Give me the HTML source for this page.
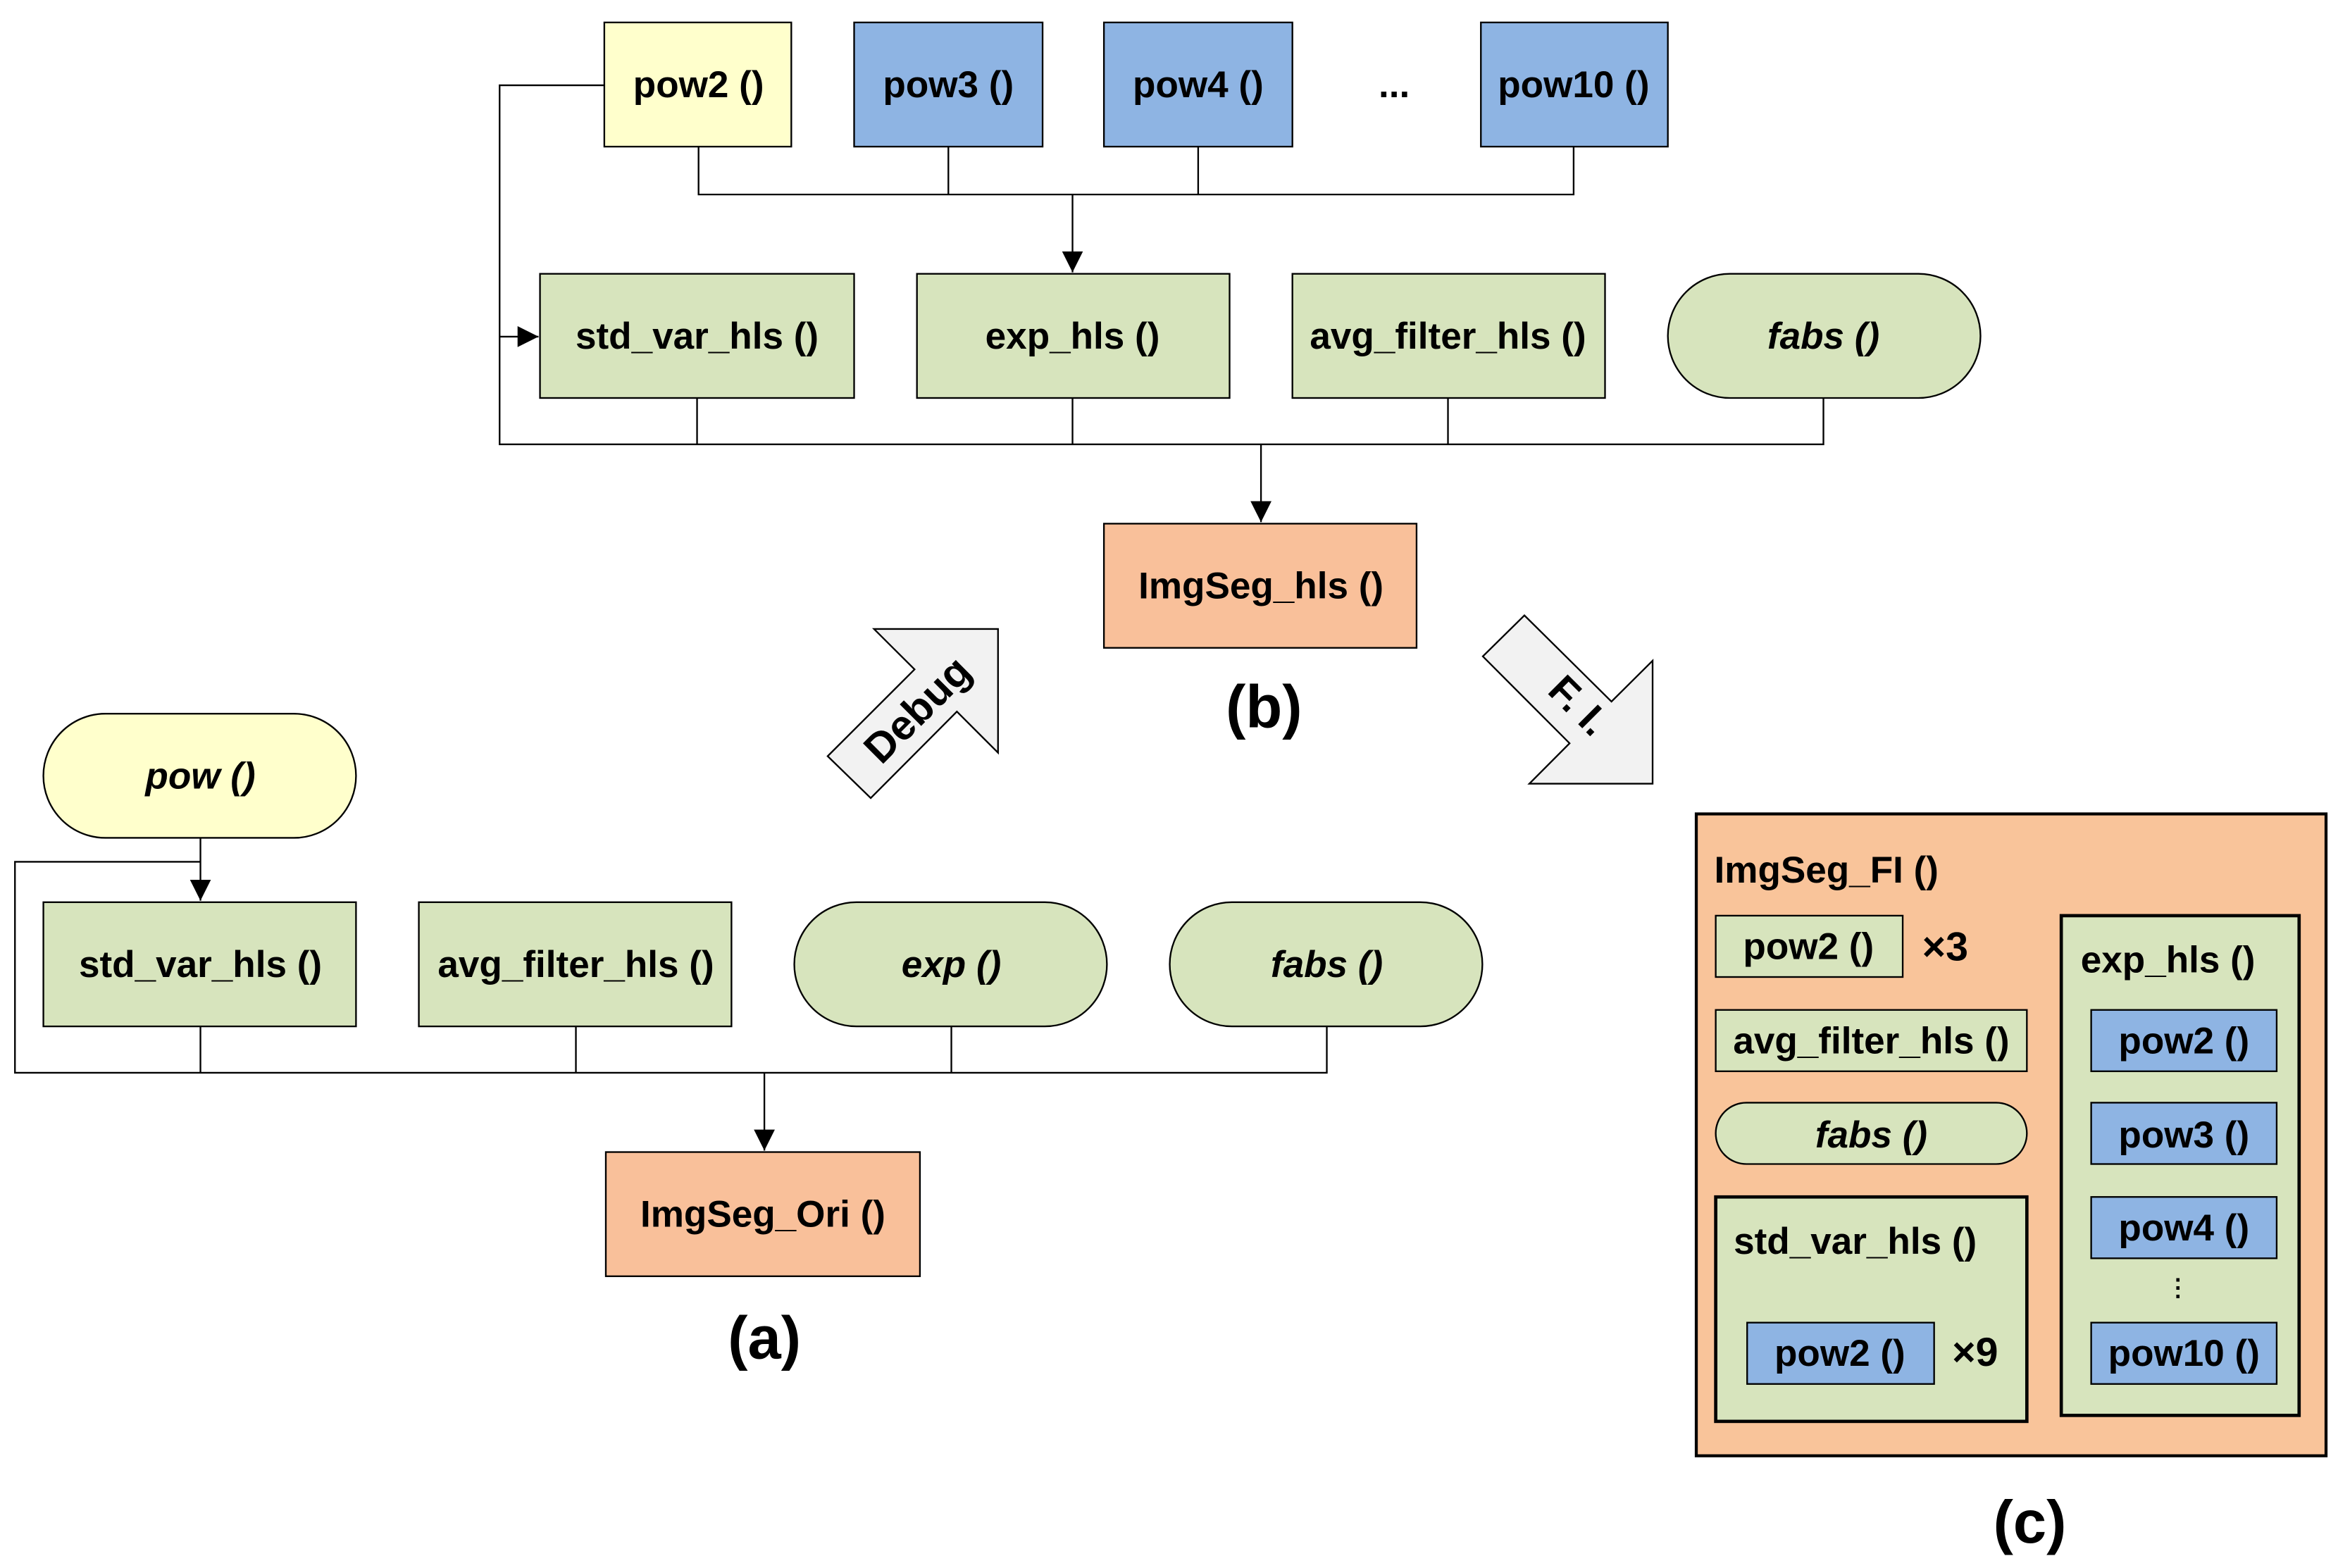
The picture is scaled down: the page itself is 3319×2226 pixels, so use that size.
<!DOCTYPE html>
<html><head><meta charset="utf-8"><style>
html,body{margin:0;padding:0;background:#fff;}
svg{display:block;}
text{font-family:"Liberation Sans Narrow","Liberation Sans",sans-serif;font-weight:bold;fill:#000;}
</style></head><body>
<svg width="3319" height="2226" viewBox="0 0 1563 1048" preserveAspectRatio="none" xmlns="http://www.w3.org/2000/svg">
<defs><marker id="ar" viewBox="0 0 10 10" refX="10" refY="5" markerWidth="14" markerHeight="14" markerUnits="userSpaceOnUse" orient="auto"><path d="M0,0 L10,5 L0,10 z" fill="#000"/></marker></defs>
<g stroke="#000" stroke-width="1.1" fill="none">
<polyline points="467,98 467,130 1052,130 1052,98"/>
<line x1="634" y1="98" x2="634" y2="130"/><line x1="801" y1="98" x2="801" y2="130"/>
<line x1="717" y1="130" x2="717" y2="182" marker-end="url(#ar)"/>
<polyline points="404,57 334,57 334,297 1219,297 1219,266"/>
<line x1="334" y1="225" x2="360" y2="225" marker-end="url(#ar)"/>
<line x1="466" y1="266" x2="466" y2="297"/><line x1="717" y1="266" x2="717" y2="297"/><line x1="968" y1="266" x2="968" y2="297"/>
<line x1="843" y1="297" x2="843" y2="349" marker-end="url(#ar)"/>
<line x1="134" y1="560" x2="134" y2="602" marker-end="url(#ar)"/>
<polyline points="134,576 10,576 10,717 887,717 887,686"/>
<line x1="134" y1="686" x2="134" y2="717"/><line x1="385" y1="686" x2="385" y2="717"/><line x1="636" y1="686" x2="636" y2="717"/>
<line x1="511" y1="717" x2="511" y2="769" marker-end="url(#ar)"/>
</g>
<g stroke="#000" stroke-width="1.1">
<rect x="404" y="15" width="125" height="83" fill="#ffffcc"/>
<rect x="571" y="15" width="126" height="83" fill="#8eb4e3"/>
<rect x="738" y="15" width="126" height="83" fill="#8eb4e3"/>
<rect x="990" y="15" width="125" height="83" fill="#8eb4e3"/>
<rect x="361" y="183" width="210" height="83" fill="#d7e4bd"/>
<rect x="613" y="183" width="209" height="83" fill="#d7e4bd"/>
<rect x="864" y="183" width="209" height="83" fill="#d7e4bd"/>
<rect x="1115" y="183" width="209" height="83" rx="41.5" fill="#d7e4bd"/>
<rect x="738" y="350" width="209" height="83" fill="#f9c09a"/>
<rect x="29" y="477" width="209" height="83" rx="41.5" fill="#ffffcc"/>
<rect x="29" y="603" width="209" height="83" fill="#d7e4bd"/>
<rect x="280" y="603" width="209" height="83" fill="#d7e4bd"/>
<rect x="531" y="603" width="209" height="83" rx="41.5" fill="#d7e4bd"/>
<rect x="782" y="603" width="209" height="83" rx="41.5" fill="#d7e4bd"/>
<rect x="405" y="770" width="210" height="83" fill="#f9c09a"/>
<polygon points="584.3,420.4 667.2,420.4 667.2,503.1 639.7,475.6 582.1,533.4 553.3,505.4 611.4,447.4" fill="#f2f2f2"/>
<polygon points="1019.1,411.3 991.3,438.7 1049.3,496.8 1022.4,523.8 1104.8,523.8 1104.8,441.6 1077.3,468.9" fill="#f2f2f2"/>
<rect x="1134" y="544" width="421" height="429" fill="#f9c49a" stroke-width="2"/>
<rect x="1147" y="612" width="125" height="41" fill="#d7e4bd"/>
<rect x="1147" y="675" width="208" height="41" fill="#d7e4bd"/>
<rect x="1147" y="737" width="208" height="41" rx="20.5" fill="#d7e4bd"/>
<rect x="1147" y="800" width="208" height="150" fill="#d7e4bd" stroke-width="2.2"/>
<rect x="1168" y="884" width="125" height="41" fill="#8eb4e3"/>
<rect x="1378" y="612" width="159" height="334" fill="#d7e4bd" stroke-width="2.2"/>
<rect x="1398" y="675" width="124" height="41" fill="#8eb4e3"/>
<rect x="1398" y="737" width="124" height="41" fill="#8eb4e3"/>
<rect x="1398" y="800" width="124" height="41" fill="#8eb4e3"/>
<rect x="1398" y="884" width="124" height="41" fill="#8eb4e3"/>
</g>
<g font-size="25" text-anchor="middle">
<text x="467" y="65">pow2 ()</text>
<text x="634" y="65">pow3 ()</text>
<text x="801" y="65">pow4 ()</text>
<text x="932" y="65">...</text>
<text x="1052" y="65">pow10 ()</text>
<text x="466" y="233">std_var_hls ()</text>
<text x="717" y="233">exp_hls ()</text>
<text x="968" y="233">avg_filter_hls ()</text>
<text x="1219" y="233" font-style="italic">fabs ()</text>
<text x="843" y="400">ImgSeg_hls ()</text>
<text x="845" y="486" font-size="40">(b)</text>
<text x="134" y="527" font-style="italic">pow ()</text>
<text x="134" y="653">std_var_hls ()</text>
<text x="385" y="653">avg_filter_hls ()</text>
<text x="636" y="653" font-style="italic">exp ()</text>
<text x="887" y="653" font-style="italic">fabs ()</text>
<text x="510" y="820">ImgSeg_Ori ()</text>
<text x="511" y="908" font-size="40">(a)</text>
<text x="1357" y="1031" font-size="40">(c)</text>
<text transform="translate(620,481) rotate(-45)" font-size="28">Debug</text>
<text transform="translate(1049,478) rotate(45)" font-size="27">F. I.</text>
<text x="1209" y="641">pow2 ()</text>
<text x="1251" y="704">avg_filter_hls ()</text>
<text x="1251" y="767" font-style="italic">fabs ()</text>
<text x="1230" y="913">pow2 ()</text>
<text x="1460" y="704">pow2 ()</text>
<text x="1460" y="767">pow3 ()</text>
<text x="1460" y="829">pow4 ()</text>
<text x="1456" y="866" font-size="16">⋮</text>
<text x="1460" y="913">pow10 ()</text>
</g>
<g font-size="25">
<text x="1146" y="590">ImgSeg_FI ()</text>
<text x="1285" y="642" font-size="27">×3</text>
<text x="1159" y="838">std_var_hls ()</text>
<text x="1305" y="913" font-size="27">×9</text>
<text x="1391" y="650">exp_hls ()</text>
</g>
</svg>
</body></html>
